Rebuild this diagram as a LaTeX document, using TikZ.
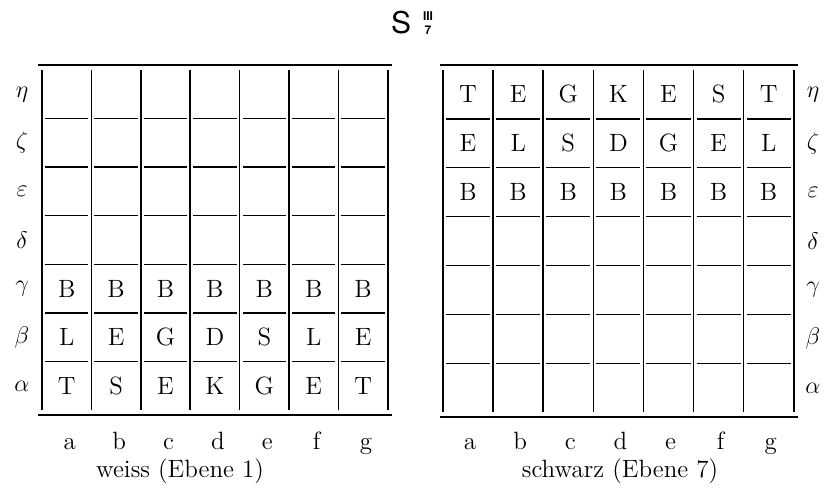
\documentclass[tikz,border=0pt]{standalone}
\usepackage{fontspec}
\usepackage{amsmath,amssymb}
\newfontfamily\titlefont{TeX Gyre Heros}
\def\lx{42}\def\lw{49.4}\def\lh{48.6}
\def\rx{443}\def\rw{50.1}\def\rh{48.9}
\newcommand{\pc}[1]{\fontsize{12.5}{12.5}\selectfont #1}
\newcommand{\gl}[1]{\fontsize{12}{12}\selectfont $#1$}
\tikzset{rule/.style={line width=1.3pt},
  outer/.style={line width=1.1pt},
  inner/.style={line width=0.8pt},
  cell/.style={line width=0.7pt},
  lab/.style={anchor=base}}

\begin{document}
\begin{tikzpicture}[x=0.5pt,y=-0.5pt]
\useasboundingbox (0,0) rectangle (829,496);
\node (tS) at (401,23) {\titlefont\fontsize{15}{15}\selectfont S};
\node[inner sep=0pt] (tidx) at (428,23) {\titlefont\fontsize{6}{8.5}\selectfont\bfseries\shortstack{III\\7}};
% weiss
\draw[rule] (38,65) -- (392,65) (38,415) -- (392,415);
\draw[outer] (\lx,70) -- (\lx,410) ({\lx+7*\lw},70) -- ({\lx+7*\lw},410);
\foreach \i in {1,...,6} \draw[inner] ({\lx+\i*\lw},70) -- ({\lx+\i*\lw},410);
\foreach \j in {1,...,6} \foreach \i in {0,...,6}
  \draw[cell] ({\lx+\i*\lw+3},{70+\j*\lh}) -- ({\lx+(\i+1)*\lw-3},{70+\j*\lh});
\foreach \p [count=\i from 0] in {B,B,B,B,B,B,B}
  \node (wg\i) at ({\lx+\lw/2+\i*\lw},{70+4.5*\lh}) {\pc{\p}};
\foreach \p [count=\i from 0] in {L,E,G,D,S,L,E}
  \node (wb\i) at ({\lx+\lw/2+\i*\lw},{70+5.5*\lh}) {\pc{\p}};
\foreach \p [count=\i from 0] in {T,S,E,K,G,E,T}
  \node (wa\i) at ({\lx+\lw/2+\i*\lw},{70+6.5*\lh}) {\pc{\p}};
\foreach \g [count=\j from 0] in {\eta,\zeta,\varepsilon,\delta,\gamma,\beta,\alpha}
  \node (wl\j) at (22,{70+\lh/2+\j*\lh}) {\gl{\g}};
\foreach \c [count=\i from 0] in {a,b,c,d,e,f,g}
  \node[lab] (wc\i) at ({\lx+\lw/2+\i*\lw+3},449) {\pc{\c}};
\node[lab] (wcap) at (180,477) {\pc{weiss (Ebene 1)}};
% schwarz
\draw[rule] (440,65) -- (798,65) (440,417) -- (798,417);
\draw[outer] (\rx,70) -- (\rx,412) ({\rx+7*\rw},70) -- ({\rx+7*\rw},412);
\foreach \i in {1,...,6} \draw[inner] ({\rx+\i*\rw},70) -- ({\rx+\i*\rw},412);
\foreach \j in {1,...,6} \foreach \i in {0,...,6}
  \draw[cell] ({\rx+\i*\rw+3},{70+\j*\rh}) -- ({\rx+(\i+1)*\rw-3},{70+\j*\rh});
\foreach \p [count=\i from 0] in {T,E,G,K,E,S,T}
  \node (se\i) at ({\rx+\rw/2+\i*\rw},{70+0.5*\rh}) {\pc{\p}};
\foreach \p [count=\i from 0] in {E,L,S,D,G,E,L}
  \node (sz\i) at ({\rx+\rw/2+\i*\rw},{70+1.5*\rh}) {\pc{\p}};
\foreach \p [count=\i from 0] in {B,B,B,B,B,B,B}
  \node (sv\i) at ({\rx+\rw/2+\i*\rw},{70+2.5*\rh}) {\pc{\p}};
\foreach \g [count=\j from 0] in {\eta,\zeta,\varepsilon,\delta,\gamma,\beta,\alpha}
  \node (sl\j) at (813,{70+\rh/2+\j*\rh}) {\gl{\g}};
\foreach \c [count=\i from 0] in {a,b,c,d,e,f,g}
  \node[lab] (sc\i) at ({\rx+\rw/2+\i*\rw+2},449) {\pc{\c}};
\node[lab] (scap) at (620,477) {\pc{schwarz (Ebene 7)}};
\end{tikzpicture}
\end{document}
